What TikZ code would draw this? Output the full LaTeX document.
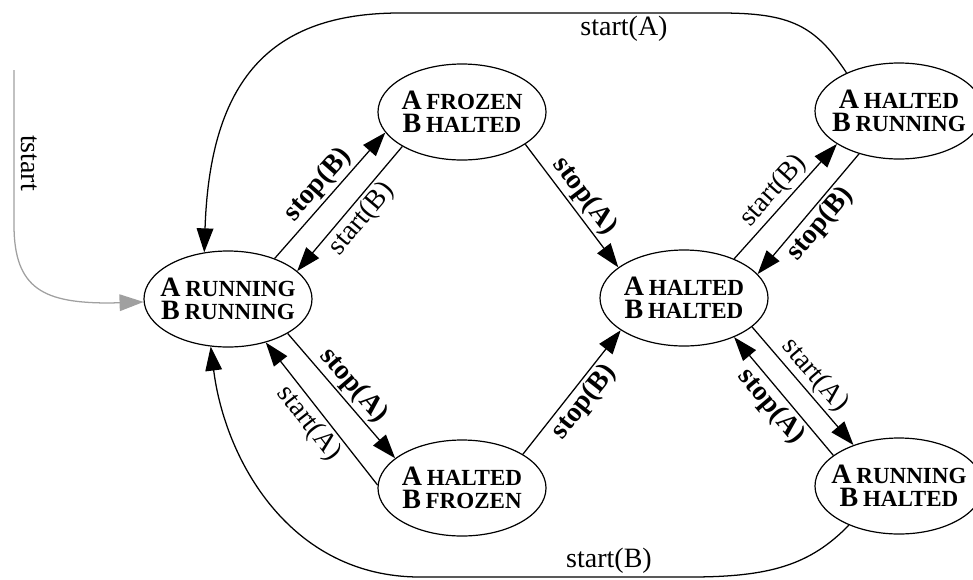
\documentclass[tikz,border=0pt]{standalone}
\usepackage{fontspec}
\setmainfont{Liberation Serif}
\usetikzlibrary{shapes.geometric,arrows.meta}
\definecolor{initgray}{RGB}{160,160,160}
\newcommand\mystate[2]{{\fontsize{21}{17.3}\selectfont #1}\,{\fontsize{17.3}{17.3}\selectfont #2}}
\begin{document}
\begin{tikzpicture}[x=0.75pt,y=-0.75pt,
  state/.style={ellipse, draw, line width=0.9pt, minimum width=126pt, minimum height=72pt, inner sep=0pt},
  statetext/.style={font=\bfseries\fontsize{21}{17.3}\selectfont, align=center, inner sep=0pt},
  edge/.style={line width=0.95pt, -{Triangle[length=18pt,width=12.5pt]}},
  initedge/.style={line width=0.95pt, draw=initgray, -{Triangle[length=18pt,width=12.5pt,fill=initgray]}},
  lab/.style={font=\fontsize{21}{25}\selectfont, inner sep=2pt},
  blab/.style={font=\fontsize{21}{25}\selectfont\bfseries, inner sep=2pt}]
\useasboundingbox (0,0) rectangle (973,579);

\node[state, label={[statetext]center:{\mystate{A}{RUNNING}\\\mystate{B}{RUNNING}}}] (RR) at (228,299) {};
\node[state, label={[statetext]center:{\mystate{A}{FROZEN}\\\mystate{B}{HALTED}}}] (FH) at (462,112) {};
\node[state, label={[statetext]center:{\mystate{A}{HALTED}\\\mystate{B}{RUNNING}}}] (HB) at (899,111) {};
\node[state, label={[statetext]center:{\mystate{A}{HALTED}\\\mystate{B}{HALTED}}}] (HH) at (684,298) {};
\node[state, label={[statetext]center:{\mystate{A}{HALTED}\\\mystate{B}{FROZEN}}}] (HF) at (462,488) {};
\node[state, label={[statetext]center:{\mystate{A}{RUNNING}\\\mystate{B}{HALTED}}}] (RH) at (899,486) {};

\coordinate (init) at (14,70);
\draw[initedge] (init) -- node[lab, text=black, rotate=-90, anchor=south, pos=0.6, inner sep=5pt] {tstart} (14,225) .. controls (14,290) and (45,303) .. (110,303) -- (RR.182);

\draw[edge] (RR.41.6) -- node[blab, sloped, above] {stop(B)} (FH.195.6);
\draw[edge] (FH.210) -- node[lab, sloped, below] {start(B)} (RR.22);
\draw[edge] (FH.-27) -- node[blab, sloped, above] {stop(A)} (HH.155.9);
\draw[edge] (HH.38.8) -- node[lab, sloped, above] {start(B)} (HB.208);
\draw[edge] (HB.227.5) -- node[blab, sloped, below] {stop(B)} (HH.18.9);
\draw[edge] (RR.-30) -- node[blab, sloped, above] {stop(A)} (HF.156.8);
\draw[edge] (HF.178) -- node[lab, sloped, below] {start(A)} (RR.-49);
\draw[edge] (HF.29.7) -- node[blab, sloped, below] {stop(B)} (HH.207.6);
\draw[edge] (HH.-23.5) -- node[lab, sloped, above] {start(A)} (RH.138.7);
\draw[edge] (RH.155.8) -- node[blab, sloped, below] {stop(A)} (HH.-38);

\draw[edge] (HB.144) .. controls (815,25) and (790,13) .. (720,13) -- node[lab, below, pos=0.3] {start(A)} (400,13) .. controls (270,13) and (210,80) .. (RR.117.5);
\draw[edge] (RH.218) .. controls (810,565) and (770,577) .. (690,577) -- node[lab, above, pos=0.3] {start(B)} (420,577) .. controls (290,577) and (225,460) .. (RR.250.5);
\end{tikzpicture}
\end{document}
